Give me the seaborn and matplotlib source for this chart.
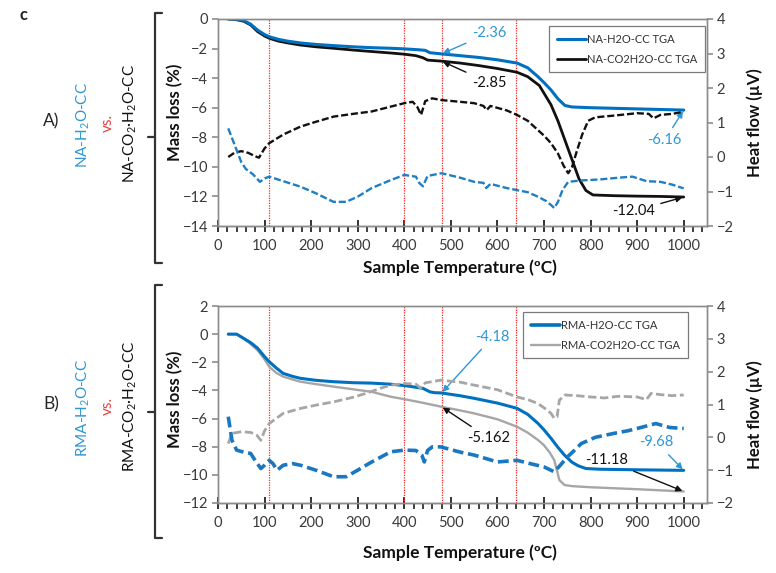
import matplotlib
matplotlib.use("Agg")
import numpy as np
import matplotlib.pyplot as plt
import seaborn as sns
from matplotlib.lines import Line2D

# ---------------- data ----------------
# Panel A: NA samples, mass loss (%) vs temperature (degC)
na_h2o_T = [22, 40, 55, 70, 85, 100, 110, 130, 150, 177, 210, 248, 290, 330, 371, 400, 430, 445,
            455, 480, 520, 560, 600, 642, 665, 687, 700, 715, 730, 745, 760, 800, 850, 900, 950, 1000]
na_h2o_tga = [0, 0, -0.1, -0.35, -0.75, -1.05, -1.2, -1.38, -1.5, -1.62, -1.72, -1.8, -1.88, -1.94,
              -1.98, -2.02, -2.08, -2.12, -2.28, -2.36, -2.48, -2.6, -2.76, -2.98, -3.3, -3.9, -4.3,
              -4.8, -5.4, -5.85, -5.95, -6.0, -6.04, -6.08, -6.12, -6.16]

na_co2_T = [22, 40, 55, 70, 85, 100, 110, 130, 150, 177, 210, 248, 290, 330, 371, 400, 425, 440,
            450, 480, 520, 560, 600, 642, 665, 690, 715, 730, 745, 760, 775, 790, 805, 850, 900, 950, 1000]
na_co2_tga = [0, -0.05, -0.15, -0.4, -0.85, -1.15, -1.3, -1.5, -1.62, -1.76, -1.88, -1.98, -2.1,
              -2.2, -2.3, -2.38, -2.48, -2.62, -2.78, -2.85, -2.98, -3.15, -3.35, -3.6, -3.9, -4.5,
              -5.8, -6.9, -8.2, -9.5, -10.8, -11.6, -11.9, -11.95, -11.98, -12.0, -12.04]

# Panel A: heat flow (uV)
na_co2_hf_T = [22, 35, 50, 65, 80, 88, 100, 110, 140, 177, 210, 248, 290, 330, 371, 400, 418, 428,
               436, 445, 460, 480, 520, 550, 570, 577, 585, 620, 642, 665, 687, 700, 715, 730, 742,
               752, 760, 770, 782, 795, 810, 850, 900, 925, 935, 950, 975, 1000]
na_co2_hf = [0.0, 0.12, 0.17, 0.12, 0.02, -0.02, 0.25, 0.4, 0.65, 0.88, 1.02, 1.17, 1.25, 1.32,
             1.46, 1.56, 1.6, 1.45, 1.22, 1.62, 1.7, 1.65, 1.6, 1.56, 1.48, 1.36, 1.48, 1.35, 1.22,
             1.05, 0.78, 0.62, 0.4, 0.1, -0.25, -0.47, -0.3, 0.15, 0.65, 1.05, 1.15, 1.2, 1.27,
             1.25, 1.12, 1.22, 1.25, 1.31]

na_h2o_hf_T = [22, 30, 40, 50, 60, 75, 90, 100, 110, 140, 177, 210, 248, 275, 300, 330, 371, 400,
               425, 432, 440, 450, 480, 520, 550, 570, 576, 585, 620, 642, 665, 687, 705, 715, 722,
               730, 740, 752, 780, 820, 860, 890, 920, 950, 975, 1000]
na_h2o_hf = [0.83, 0.55, 0.2, -0.15, -0.35, -0.5, -0.72, -0.62, -0.57, -0.7, -0.86, -1.05, -1.3,
             -1.3, -1.15, -0.9, -0.67, -0.52, -0.57, -0.75, -0.85, -0.55, -0.47, -0.6, -0.72, -0.75,
             -0.9, -0.78, -0.9, -0.96, -1.02, -1.15, -1.28, -1.39, -1.48, -1.3, -0.95, -0.72, -0.68,
             -0.65, -0.6, -0.57, -0.7, -0.72, -0.8, -0.91]

# Panel B: RMA samples, mass loss (%)
rma_h2o_T = [22, 40, 55, 70, 85, 100, 110, 125, 140, 160, 177, 210, 248, 290, 330, 371, 400, 440,
             455, 465, 480, 520, 550, 600, 642, 665, 687, 700, 715, 730, 744, 760, 773, 790, 820,
             900, 1000]
rma_h2o_tga = [0, 0, -0.3, -0.6, -1.0, -1.6, -1.96, -2.4, -2.79, -3.0, -3.14, -3.28, -3.38, -3.45,
               -3.48, -3.56, -3.65, -3.85, -4.1, -4.16, -4.18, -4.38, -4.56, -4.9, -5.27, -5.7,
               -6.34, -6.8, -7.4, -8.05, -8.6, -9.1, -9.35, -9.55, -9.6, -9.64, -9.68]

rma_co2_T = [22, 40, 55, 70, 85, 100, 110, 125, 140, 160, 177, 210, 248, 290, 330, 371, 400, 440,
             480, 520, 550, 600, 642, 665, 687, 700, 712, 722, 733, 744, 760, 800, 900, 1000]
rma_co2_tga = [0, 0, -0.3, -0.7, -1.15, -1.8, -2.31, -2.75, -3.02, -3.22, -3.38, -3.55, -3.73,
               -3.92, -4.1, -4.45, -4.62, -4.88, -5.162, -5.42, -5.63, -6.05, -6.58, -7.0, -7.52,
               -7.9, -8.4, -8.95, -10.37, -10.72, -10.8, -10.88, -11.02, -11.18]

# Panel B: heat flow (uV)
rma_co2_hf_T = [22, 30, 50, 70, 83, 92, 100, 110, 140, 177, 210, 248, 290, 320, 350, 371, 400, 425,
                435, 445, 478, 520, 550, 600, 642, 665, 687, 705, 715, 722, 728, 733, 745, 770, 800,
                830, 860, 900, 920, 930, 950, 975, 1000]
rma_co2_hf = [-0.19, 0.12, 0.17, 0.15, 0.07, -0.09, 0.2, 0.42, 0.73, 0.88, 0.98, 1.08, 1.22, 1.35,
              1.5, 1.59, 1.64, 1.62, 1.5, 1.66, 1.74, 1.68, 1.59, 1.45, 1.23, 1.15, 1.03, 0.85,
              0.73, 0.58, 0.62, 1.13, 1.29, 1.27, 1.23, 1.2, 1.25, 1.23, 1.15, 1.34, 1.3, 1.27, 1.29]

rma_h2o_hf_T = [22, 30, 40, 55, 70, 82, 92, 100, 110, 118, 127, 140, 160, 177, 210, 248, 275, 300,
                330, 371, 400, 425, 438, 443, 450, 460, 478, 520, 550, 600, 642, 670, 700, 722, 735,
                750, 765, 780, 810, 850, 880, 900, 940, 970, 1000]
rma_h2o_hf = [0.63, -0.09, -0.39, -0.45, -0.49, -0.75, -0.95, -0.85, -0.7, -0.8, -1.0, -0.85, -0.8,
              -0.85, -1.0, -1.2, -1.2, -1.0, -0.75, -0.44, -0.39, -0.4, -0.55, -0.75, -0.4, -0.29,
              -0.29, -0.45, -0.54, -0.75, -0.7, -0.8, -0.9, -1.05, -0.85, -0.6, -0.4, -0.19, 0.0,
              0.12, 0.2, 0.27, 0.42, 0.3, 0.27]

# Characteristic temperatures marked on both panels (degC)
event_temps = [110, 400, 480, 640]

# Temperatures at which mass-loss values are called out
na_callout_T = [480, 480, 1000, 1000]
rma_callout_T = [480, 480, 1000, 1000]

x_ticks = list(range(0, 1001, 100))
x_minor_ticks = [t for t in range(0, 1050, 20) if t % 100]
top_left_ticks = list(range(-14, 1, 2))
bottom_left_ticks = list(range(-12, 3, 2))
right_ticks = list(range(-2, 5, 1))

# ---------------- style ----------------
sns.set_theme(style="ticks")
plt.rcParams["font.family"] = ["Lato", "DejaVu Sans"]
plt.rcParams["mathtext.default"] = "regular"

BLUE = "#0070c0"
BLUE_TXT = "#2f97d4"
GRAY = "#a6a6a6"
RED = "#e8413c"
TICK = "#3a3a3a"
SPINE = "#8c8c8c"
TICKMARK = "#333333"

W, H = 776, 573
fig = plt.figure(figsize=(W / 100, H / 100), dpi=100)
fig.patch.set_facecolor("white")


def px_axes(left, top, right, bottom):
    return fig.add_axes([left / W, 1 - bottom / H, (right - left) / W, (bottom - top) / H])


def ftext(x, y, s, **kw):
    return fig.text(x / W, 1 - y / H, s, **kw)


def bracket(x, y0, y1, ymid):
    tr = fig.transFigure
    pts = [(x + 7, y0), (x, y0), (x, y1), (x + 7, y1)]
    fig.add_artist(Line2D([p[0] / W for p in pts], [1 - p[1] / H for p in pts],
                          color="#333333", lw=1.6, transform=tr))
    fig.add_artist(Line2D([(x - 7) / W, x / W], [1 - ymid / H, 1 - ymid / H],
                          color="#333333", lw=1.6, transform=tr))


def style_axes(ax, ax2, left_ticks):
    ax.set_xlim(0, 1050)
    ax.set_xticks(x_ticks)
    ax.set_xticks(x_minor_ticks, minor=True)
    ax.set_yticks(left_ticks)
    ax.set_ylim(left_ticks[0], left_ticks[-1])
    ax2.set_yticks(right_ticks)
    ax2.set_ylim(right_ticks[0], right_ticks[-1])
    ax.tick_params(axis="x", which="major", direction="inout", length=9, width=1.4,
                   color=TICKMARK, labelsize=10.5, labelcolor=TICK, pad=5, bottom=True, top=False)
    ax.tick_params(axis="x", which="minor", direction="out", length=4.5, width=1.3,
                   color=TICKMARK, bottom=True, top=False)
    ax.tick_params(axis="y", which="major", direction="out", length=4, width=1.2, color=SPINE,
                   labelsize=10.5, labelcolor=TICK, pad=3, left=True, right=False)
    ax.tick_params(axis="y", which="minor", left=False, right=False)
    ax2.tick_params(axis="y", which="major", direction="out", length=4, width=1.2, color=SPINE,
                    labelsize=10.5, labelcolor=TICK, pad=3, right=True, left=False)
    ax2.tick_params(axis="y", which="minor", left=False, right=False)
    for a in (ax, ax2):
        for sp in a.spines.values():
            sp.set_visible(True)
            sp.set_color(SPINE)
            sp.set_linewidth(1)
    ax.spines["bottom"].set_color("#555555")
    ax.set_xlabel("")
    ax.set_ylabel("")
    ax2.set_ylabel("")
    for t in event_temps:
        ax.axvline(t, color="#ff2020", lw=0.9, ls=(0, (1, 1)), zorder=1)


def callout(ax, T_series, v_series, T, color, text_xy):
    val = float(np.interp(T, T_series, v_series))
    ax.annotate(f"{val:g}", xy=(T, val), xytext=text_xy, textcoords="data",
                ha="center", va="center", fontsize=10.5, color=color,
                arrowprops=dict(arrowstyle="-|>", color=color, lw=1.0,
                                mutation_scale=9, shrinkA=2, shrinkB=1))


def legend(ax, labels, colors, widths, anchor):
    handles = [Line2D([], [], color=c, lw=w) for c, w in zip(colors, widths)]
    lg = ax.legend(handles, labels, loc="upper right", bbox_to_anchor=anchor,
                   fontsize=8, frameon=True, fancybox=False, handlelength=2.6,
                   handletextpad=0.1, borderpad=0.7, labelspacing=0.8, borderaxespad=0)
    lg.get_frame().set_edgecolor("#595959")
    lg.get_frame().set_linewidth(0.9)
    for t in lg.get_texts():
        t.set_color("#333333")


# ---------------- panel A ----------------
axA = px_axes(218, 19, 707, 226)
axA2 = axA.twinx()
sns.lineplot(x=na_co2_hf_T, y=na_co2_hf, ax=axA2, color="#111111", lw=1.7,
             linestyle=(0, (3, 1.2)), errorbar=None)
sns.lineplot(x=na_h2o_hf_T, y=na_h2o_hf, ax=axA2, color="#1f7fc4", lw=1.7,
             linestyle=(0, (3, 1.2)), errorbar=None)
sns.lineplot(x=na_co2_T, y=na_co2_tga, ax=axA, color="#111111", lw=2.0, errorbar=None)
sns.lineplot(x=na_h2o_T, y=na_h2o_tga, ax=axA, color=BLUE, lw=2.2, errorbar=None)
style_axes(axA, axA2, top_left_ticks)
legend(axA2, ["NA-H2O-CC TGA", "NA-CO2H2O-CC TGA"], [BLUE, "#111111"], [2.2, 2.0],
       (0.996, 0.966))
callout(axA, na_h2o_T, na_h2o_tga, na_callout_T[0], BLUE_TXT, (582, -0.95))
callout(axA, na_co2_T, na_co2_tga, na_callout_T[1], "#111111", (582, -4.3))
callout(axA, na_h2o_T, na_h2o_tga, na_callout_T[2], BLUE_TXT, (959, -8.2))
callout(axA, na_co2_T, na_co2_tga, na_callout_T[3], "#111111", (892, -13.0))

# ---------------- panel B ----------------
axB = px_axes(218, 306, 707, 503)
axB2 = axB.twinx()
sns.lineplot(x=rma_co2_hf_T, y=rma_co2_hf, ax=axB2, color=GRAY, lw=2.0,
             linestyle=(0, (3, 1.3)), errorbar=None)
sns.lineplot(x=rma_h2o_hf_T, y=rma_h2o_hf, ax=axB2, color="#1a78c2", lw=2.6,
             linestyle=(0, (3, 1.3)), errorbar=None)
sns.lineplot(x=rma_co2_T, y=rma_co2_tga, ax=axB, color=GRAY, lw=1.7, errorbar=None)
sns.lineplot(x=rma_h2o_T, y=rma_h2o_tga, ax=axB, color=BLUE, lw=2.2, errorbar=None)
style_axes(axB, axB2, bottom_left_ticks)
legend(axB2, ["RMA-H2O-CC TGA", "RMA-CO2H2O-CC TGA"], [BLUE, GRAY], [2.6, 1.7],
       (0.961, 0.97))
callout(axB, rma_h2o_T, rma_h2o_tga, rma_callout_T[0], BLUE_TXT, (590, -0.2))
callout(axB, rma_co2_T, rma_co2_tga, rma_callout_T[1], "#111111", (582, -7.4))
callout(axB, rma_h2o_T, rma_h2o_tga, rma_callout_T[2], BLUE_TXT, (942, -7.7))
callout(axB, rma_co2_T, rma_co2_tga, rma_callout_T[3], "#111111", (834, -8.95))

# ---------------- surrounding labels ----------------
ftext(23, 15, "c", fontsize=12, fontweight="bold", color="#222222", ha="center", va="center")

for yc, tag, s1, s2, ylab_y, hf_y, xl_y in [
    (123, "A)", "NA-H$_2$O-CC", "NA-CO$_2$·H$_2$O-CC", 112, 123, 268),
    (406, "B)", "RMA-H$_2$O-CC", "RMA-CO$_2$·H$_2$O-CC", 399, 415, 553),
]:
    ftext(51, yc - 2, tag, fontsize=12.5, color="#262626", ha="center", va="center")
    ftext(83, yc + 2, s1, fontsize=11, color=BLUE_TXT, rotation=90, ha="center", va="center")
    ftext(108, yc, "vs.", fontsize=11, color=RED, rotation=90, ha="center", va="center")
    ftext(130, yc, s2, fontsize=11, color="#111111", rotation=90, ha="center", va="center")
    ftext(175, ylab_y, "Mass loss (%)", fontsize=12, fontweight="bold", color="#111111",
          rotation=90, ha="center", va="center")
    ftext(755, hf_y, "Heat flow (µV)", fontsize=12, fontweight="bold", color="#111111",
          rotation=90, ha="center", va="center")
    ftext(460, xl_y, "Sample Temperature (ºC)", fontsize=12.5, fontweight="bold",
          color="#111111", ha="center", va="center")

bracket(155, 13, 263, 137)
bracket(155, 285, 538, 412)

fig.savefig("out.png", dpi=100, facecolor="white")
